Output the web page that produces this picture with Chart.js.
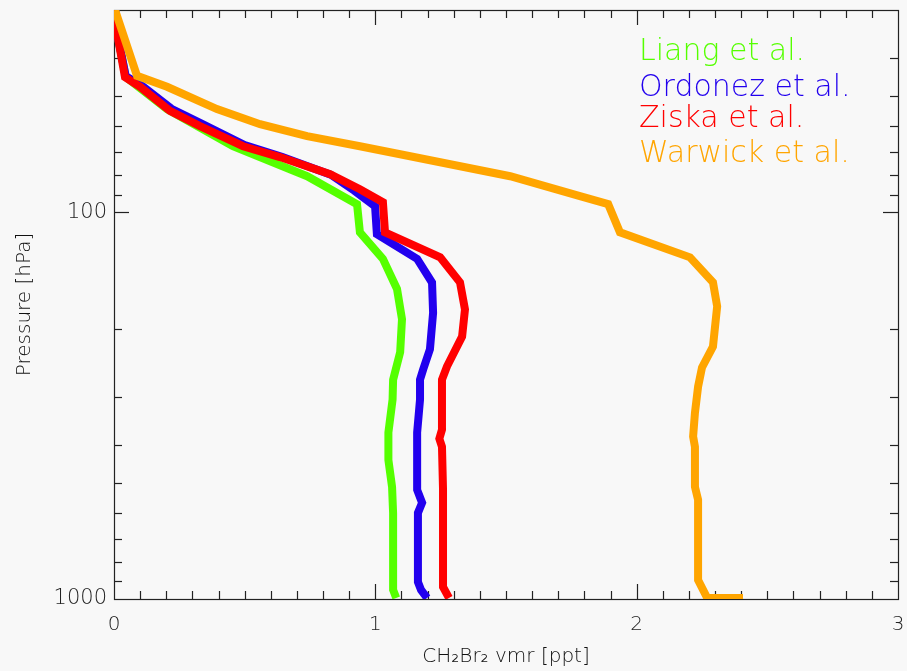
<!DOCTYPE html>
<html><head><meta charset="utf-8">
<script src="https://cdn.jsdelivr.net/npm/chart.js@4"></script>
<style>html,body{margin:0;padding:0;background:#f8f8f8;overflow:hidden}canvas{display:block}</style>
</head><body>
<canvas id="c" width="907" height="671"></canvas>
<script>
// ---- data ----
const seriesNames  = ['Liang et al.', 'Ordonez et al.', 'Ziska et al.', 'Warwick et al.'];
const seriesColors = ['#55ff00', '#2200ee', '#ff0000', '#ffa500'];

const liangP = [30, 34.2, 44.7, 54.1, 67.5, 80.7, 95.3, 112.7, 132, 158, 189, 230, 271, 305, 371, 437, 513, 600, 947, 994];
const liangV = [0.005, 0.011, 0.045, 0.203, 0.455, 0.739, 0.930, 0.941, 1.029, 1.083, 1.102, 1.095, 1.068, 1.066, 1.050, 1.050, 1.064, 1.068, 1.068, 1.080];

const ordonezP = [30, 34.2, 44.5, 47, 54, 59, 67, 72, 80, 88, 96.5, 114, 132, 152, 182, 226, 255, 271, 305, 371, 522, 564, 599, 904, 948, 994];
const ordonezV = [0.005, 0.011, 0.045, 0.105, 0.22, 0.335, 0.50, 0.645, 0.83, 0.92, 0.999, 1.006, 1.160, 1.217, 1.221, 1.209, 1.183, 1.171, 1.171, 1.160, 1.160, 1.179, 1.163, 1.163, 1.175, 1.198];

const ziskaP = [30, 34.2, 44.7, 47.4, 54.7, 59.9, 67.5, 72.0, 79.7, 87.2, 94.2, 112.7, 130.8, 151.8, 178.4, 209.6, 250.6, 271, 365, 385, 404, 520, 931, 994];
const ziskaV = [0.004, 0.011, 0.042, 0.100, 0.214, 0.329, 0.494, 0.635, 0.827, 0.941, 1.029, 1.037, 1.248, 1.324, 1.343, 1.332, 1.274, 1.255, 1.255, 1.245, 1.255, 1.259, 1.259, 1.282];

const warwickP = [30, 44.4, 47.4, 54.1, 59.2, 63.6, 67.5, 70.8, 80.7, 90.9, 95.3, 112.7, 130.8, 151.8, 175.2, 222.4, 252, 282.5, 330, 380, 404, 513, 554, 663, 893, 994, 994];
const warwickV = [0.004, 0.088, 0.203, 0.394, 0.559, 0.739, 0.941, 1.095, 1.516, 1.783, 1.891, 1.936, 2.204, 2.292, 2.308, 2.292, 2.250, 2.235, 2.223, 2.216, 2.223, 2.223, 2.235, 2.235, 2.235, 2.270, 2.407];

const xTickLabels = [0, 1, 2, 3];
const yTickLabels = [100, 1000];
const xTitle = 'CH\u2082Br\u2082 vmr [ppt]';
const yTitle = 'Pressure [hPa]';

// ---- build ----
const allP = [liangP, ordonezP, ziskaP, warwickP];
const allV = [liangV, ordonezV, ziskaV, warwickV];
const FONT = "'DejaVu Sans'";

const datasets = seriesNames.map((name, i) => ({
  label: name,
  data: allV[i].map((v, k) => ({x: v, y: allP[i][k]})),
  borderColor: seriesColors[i],
  backgroundColor: seriesColors[i],
  borderWidth: 8,
  pointRadius: 0,
  tension: 0,
  fill: false,
  borderJoinStyle: 'miter',
  borderCapStyle: 'butt',
  order: seriesNames.length - i
}));

const framePlugin = {
  id: 'frame',
  beforeDraw(chart) {
    const {ctx, width, height} = chart;
    ctx.save(); ctx.fillStyle = '#f8f8f8'; ctx.fillRect(0, 0, width, height); ctx.restore();
  },
  beforeDatasetsDraw(chart) {
    const {ctx, chartArea: {left, right, top, bottom}, scales: {x, y}} = chart;
    ctx.save();
    ctx.strokeStyle = '#222'; ctx.lineWidth = 1.2;
    ctx.strokeRect(left + 0.5, top + 0.5, right - left, bottom - top);
    const seg = (x1, y1, x2, y2) => { ctx.beginPath(); ctx.moveTo(x1, y1); ctx.lineTo(x2, y2); ctx.stroke(); };
    for (let i = 1; i < 30; i++) {
      const px = Math.round(x.getPixelForValue(i / 10)) + 0.5;
      const len = (i % 10 === 0) ? 15 : 8;
      seg(px, bottom, px, bottom - len);
      seg(px, top, px, top + len);
    }
    for (const dec of [10, 100]) {
      for (let k = 1; k < 10; k++) {
        const v = dec * k;
        if (v <= 30 || v >= 1000) continue;
        const py = Math.round(y.getPixelForValue(v)) + 0.5;
        const len = (k === 1) ? 15 : 8;
        seg(left, py, left + len, py);
        seg(right, py, right - len, py);
      }
    }
    ctx.restore();
  },
  afterDraw(chart) {
    const {ctx} = chart;
    const ys = [60, 96, 127, 162];
    ctx.save();
    ctx.font = '200 30px ' + FONT;
    ctx.textBaseline = 'alphabetic';
    ctx.textAlign = 'left';
    seriesNames.forEach((n, i) => { ctx.fillStyle = seriesColors[i]; ctx.fillText(n, 639, ys[i]); });
    ctx.restore();
  }
};

const noPad = (s) => { s.paddingLeft = 0; s.paddingRight = 0; s.paddingTop = 0; s.paddingBottom = 0; };

new Chart(document.getElementById('c'), {
  type: 'line',
  data: {datasets},
  plugins: [framePlugin],
  options: {
    responsive: false,
    animation: false,
    devicePixelRatio: 1,
    layout: {padding: {top: 10, right: 9, left: 0, bottom: 0}},
    plugins: {legend: {display: false}, tooltip: {enabled: false}, title: {display: false}},
    scales: {
      x: {
        type: 'linear', position: 'bottom', min: 0, max: 3,
        grid: {display: false, drawTicks: false},
        border: {display: false},
        ticks: {
          stepSize: 1, padding: 14, color: '#222',
          font: {family: FONT, size: 20, weight: 200},
          callback: (v) => xTickLabels.includes(v) ? String(v) : ''
        },
        title: {display: true, text: xTitle, color: '#111',
          font: {family: FONT, size: 20, weight: 200}, padding: {top: 0, bottom: 2}},
        afterFit: (s) => { s.height = 72; noPad(s); }
      },
      y: {
        type: 'logarithmic', position: 'left', min: 30, max: 1000, reverse: true,
        grid: {display: false, drawTicks: false},
        border: {display: false},
        ticks: {
          padding: 7, color: '#222', autoSkip: false,
          font: {family: FONT, size: 21, weight: 200},
          callback: (v) => yTickLabels.includes(Math.round(v)) ? String(Math.round(v)) : ''
        },
        title: {display: true, text: yTitle, color: '#111',
          font: {family: FONT, size: 20, weight: 200}, padding: {top: 13, bottom: 0}},
        afterFit: (s) => { s.width = 114; noPad(s); }
      }
    }
  }
});
</script>
</body></html>
